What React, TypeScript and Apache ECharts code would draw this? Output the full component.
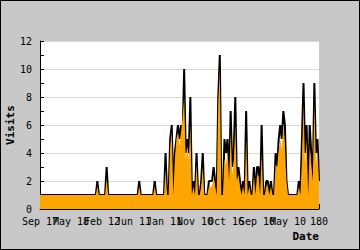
import React, { useEffect, useRef } from "react";
import * as echarts from "echarts";

const tickLabels = ["Sep 17", "May 18", "Feb 12", "Jun 11", "Jan 11", "Nov 10", "Oct 16", "Sep 10", "May 10", "180"];

const visits = [
  1, 1, 1, 1, 1, 1, 1, 1, 1, 1,
  1, 1, 1, 1, 1, 1, 1, 1, 1, 1,
  1, 1, 1, 1, 1, 1, 1, 1, 1, 1,
  1, 1, 1, 1, 1, 1, 1, 2, 1, 1,
  1, 1, 1, 3, 1, 1, 1, 1, 1, 1,
  1, 1, 1, 1, 1, 1, 1, 1, 1, 1,
  1, 1, 1, 1, 2, 1, 1, 1, 1, 1,
  1, 1, 1, 1, 2, 1, 1, 1, 1, 1,
  1, 4, 1, 1, 5, 6, 1, 4, 5, 6,
  5, 6, 5, 10, 4, 5, 4, 8, 1, 2,
  1, 4, 1, 1, 2, 4, 1, 1, 1, 2,
  2, 2, 3, 2, 1, 8, 11, 1, 1, 5,
  4, 5, 2, 7, 3, 4, 8, 2, 3, 2,
  1, 2, 1, 7, 1, 2, 1, 1, 3, 1,
  3, 3, 1, 6, 1, 1, 2, 2, 1, 2,
  1, 1, 4, 3, 5, 6, 5, 7, 6, 2,
  1, 1, 1, 1, 1, 1, 1, 2, 1, 5,
  9, 4, 6, 1, 6, 4, 2, 9, 4, 5,
  2,
];

const average = [
  1, 1, 1, 1, 1, 1, 1, 1, 1, 1,
  1, 1, 1, 1, 1, 1, 1, 1, 1, 1,
  1, 1, 1, 1, 1, 1, 1, 1, 1, 1,
  1, 1, 1, 1, 1, 1, 1, 1.6, 1, 1,
  1, 1, 1, 2.2, 1, 1, 1, 1, 1, 1,
  1, 1, 1, 1, 1, 1, 1, 1, 1, 1,
  1, 1, 1, 1, 1.6, 1, 1, 1, 1, 1,
  1, 1, 1, 1, 1.6, 1, 1, 1, 1, 1,
  1, 2.8, 1, 1, 4.5, 5.5, 1, 3.5, 5, 5.5,
  4.5, 5.5, 6.5, 8, 3.5, 4.5, 3.5, 6, 1, 1.6,
  1, 3.2, 1, 1, 1.6, 3, 1, 1, 1, 1.6,
  1.6, 1.6, 2.4, 1.6, 1, 7.5, 10, 1, 1, 3.5,
  3.2, 4.2, 2, 5.5, 2.5, 3.2, 6, 2, 2.5, 1.6,
  1, 1.6, 1, 5, 1, 1.6, 1, 1, 2.4, 1,
  2.4, 2.4, 1, 4, 1, 1, 1.6, 1.6, 1, 1.6,
  1, 1, 3.2, 3, 4.2, 5, 4.2, 6, 4.5, 2,
  1, 1, 1, 1, 1, 1, 1, 1.6, 1, 3.5,
  7.5, 3.2, 5, 1, 4.5, 3.2, 2, 7.5, 3.2, 4.2,
  2,
];

const categories = visits.map((_, i) => String(i));

const MONO = "DejaVu Sans Mono";

const labelFor = (i: number) => (i % 20 === 0 ? tickLabels[i / 20] : "");

export default function App() {
  const ref = useRef<HTMLDivElement>(null);
  useEffect(() => {
    const chart = echarts.init(ref.current!, null, { renderer: "svg" });
    const baseLabel = {
      margin: 7,
      color: "#000",
      fontFamily: MONO,
      fontSize: 10,
      hideOverlap: false,
      formatter: (_v: string, i: number) => labelFor(i),
    };
    chart.setOption({
      animation: false,
      backgroundColor: "#c8c8c8",
      grid: {
        left: 40,
        right: 41,
        top: 41,
        bottom: 41,
        show: true,
        backgroundColor: "#ffffff",
        borderWidth: 0,
      },
      xAxis: [
        {
          type: "category",
          data: categories,
          boundaryGap: false,
          position: "bottom",
          axisLine: { lineStyle: { color: "#000", width: 1 } },
          axisTick: { interval: 19, inside: true, length: 5, lineStyle: { color: "#000" } },
          axisLabel: {
            ...baseLabel,
            interval: (i: number) => i % 40 === 0,
          },
          splitLine: { show: false },
        },
        {
          type: "category",
          data: categories,
          boundaryGap: false,
          position: "bottom",
          offset: 0,
          axisLine: { show: false },
          axisTick: { show: false },
          axisLabel: {
            ...baseLabel,
            interval: (i: number) => i % 40 === 20,
          },
          splitLine: { show: false },
        },
      ],
      yAxis: {
        type: "value",
        min: 0,
        max: 12,
        interval: 2,
        axisLine: { show: true, lineStyle: { color: "#000", width: 1 } },
        axisTick: { show: true, inside: true, length: 4, lineStyle: { color: "#000" } },
        minorTick: { show: true, splitNumber: 2, length: 4, lineStyle: { color: "#000" } },
        axisLabel: { margin: 8, color: "#000", fontFamily: MONO, fontSize: 10 },
        splitLine: { lineStyle: { color: "#d8d8d8", width: 1 } },
      },
      series: [
        {
          type: "line",
          data: visits,
          xAxisIndex: 0,
          symbol: "none",
          z: 2,
          lineStyle: { color: "#000", width: 2 },
        },
        {
          type: "line",
          data: average,
          xAxisIndex: 0,
          symbol: "none",
          z: 3,
          lineStyle: { width: 0, color: "#ffa500" },
          areaStyle: { color: "#ffa500", opacity: 1 },
        },
      ],
      graphic: [
        {
          type: "rect",
          shape: { x: 0.5, y: 0.5, width: 359, height: 249 },
          style: { fill: "none", stroke: "#000", lineWidth: 1 },
          silent: true,
        },
        {
          type: "text",
          x: 10,
          y: 125,
          rotation: Math.PI / 2,
          style: {
            text: "Visits",
            font: `bold 11px "${MONO}"`,
            fill: "#000",
            textAlign: "center",
            textVerticalAlign: "middle",
          },
        },
        {
          type: "text",
          x: 319,
          y: 236,
          style: {
            text: "Date",
            font: `bold 11px "${MONO}"`,
            fill: "#000",
            textAlign: "right",
            textVerticalAlign: "middle",
          },
        },
      ],
    });
    return () => chart.dispose();
  }, []);
  return (
    <div
      ref={ref}
      style={{ position: "absolute", left: 0, top: 0, width: 360, height: 250 }}
    />
  );
}
